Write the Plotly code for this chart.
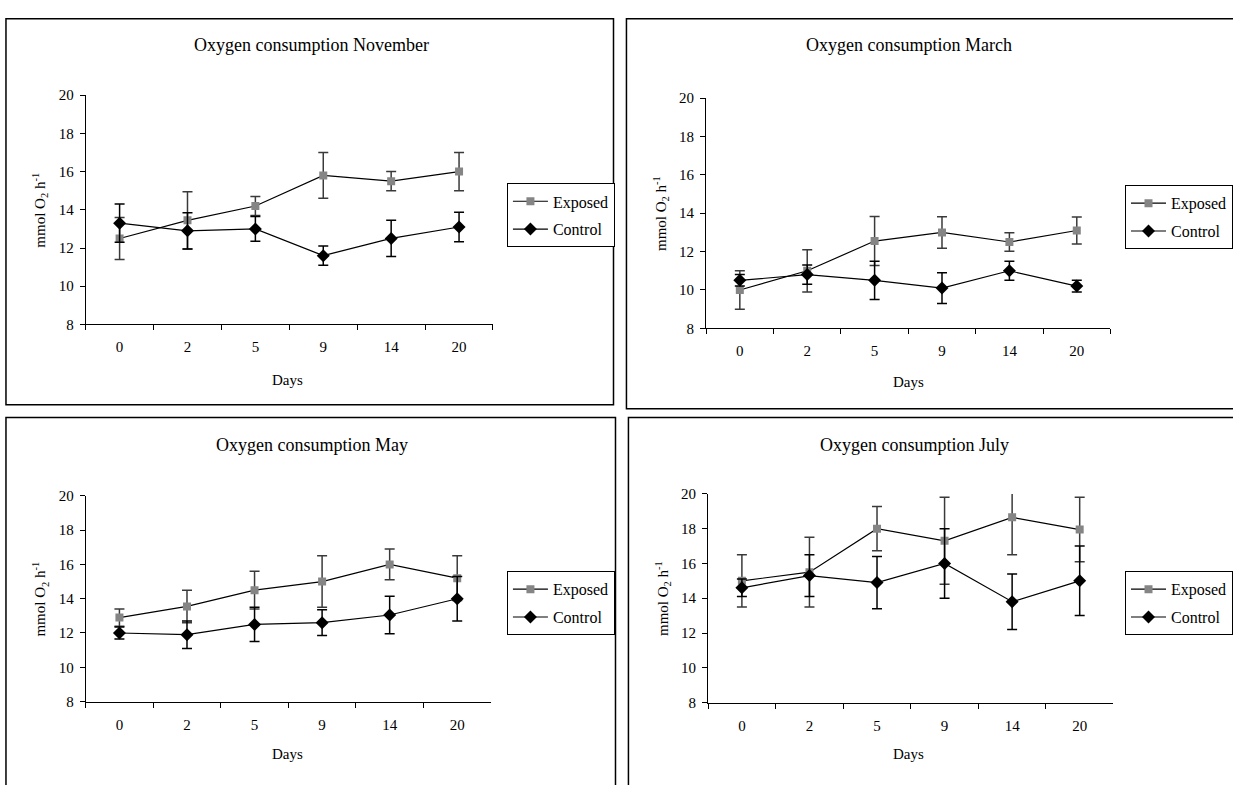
import plotly.graph_objects as go

days = ["0", "2", "5", "9", "14", "20"]

nov_exposed = [12.5, 13.45, 14.2, 15.8, 15.5, 16.0]
nov_exposed_err = [1.1, 1.5, 0.5, 1.2, 0.5, 1.0]
nov_control = [13.3, 12.9, 13.0, 11.6, 12.5, 13.1]
nov_control_err = [1.0, 0.95, 0.65, 0.5, 0.95, 0.77]

mar_exposed = [10.0, 11.0, 12.55, 13.0, 12.5, 13.1]
mar_exposed_err = [1.0, 1.1, 1.28, 0.82, 0.48, 0.7]
mar_control = [10.5, 10.8, 10.5, 10.1, 11.0, 10.2]
mar_control_err = [0.3, 0.5, 1.0, 0.8, 0.5, 0.3]

may_exposed = [12.9, 13.55, 14.5, 15.0, 16.0, 15.2]
may_exposed_err = [0.5, 0.95, 1.1, 1.5, 0.9, 1.3]
may_control = [12.0, 11.9, 12.5, 12.6, 13.05, 14.0]
may_control_err = [0.35, 0.8, 1.0, 0.75, 1.1, 1.3]

jul_exposed = [15.0, 15.5, 18.0, 17.3, 18.65, 17.95]
jul_exposed_err = [1.5, 2.0, 1.27, 2.5, 2.15, 1.85]
jul_control = [14.6, 15.3, 14.9, 16.0, 13.8, 15.0]
jul_control_err = [0.5, 1.2, 1.5, 2.0, 1.6, 2.0]

titles = ["Oxygen consumption November", "Oxygen consumption March",
          "Oxygen consumption May", "Oxygen consumption July"]
y_ticks = [8, 10, 12, 14, 16, 18, 20]

W, H = 1233, 785
FONT = "Liberation Serif"

panels = [
    dict(title=titles[0], ex=nov_exposed, exe=nov_exposed_err, co=nov_control, coe=nov_control_err,
         px=(86, 495), py=(89, 323), box=(6, 616, 11, 405), leg=(509, 179),
         ttl=(313, 38), days=(289, 380), ylab=(40, 206)),
    dict(title=titles[1], ex=mar_exposed, exe=mar_exposed_err, co=mar_control, coe=mar_control_err,
         px=(709, 1115), py=(92, 327), box=(629, 1260, 11, 409), leg=(1130, 181),
         ttl=(913, 38), days=(912, 382), ylab=(663, 210)),
    dict(title=titles[2], ex=may_exposed, exe=may_exposed_err, co=may_control, coe=may_control_err,
         px=(86, 493), py=(498, 708), box=(6, 618, 418, 800), leg=(509, 575),
         ttl=(313, 446), days=(289, 762), ylab=(40, 603)),
    dict(title=titles[3], ex=jul_exposed, exe=jul_exposed_err, co=jul_control, coe=jul_control_err,
         px=(711, 1118), py=(496, 709), box=(631, 1260, 418, 800), leg=(1130, 575),
         ttl=(918, 446), days=(912, 762), ylab=(665, 603)),
]

fig = go.Figure()
layout = dict(
    width=W, height=H, margin=dict(l=0, r=0, t=0, b=0),
    paper_bgcolor="white", plot_bgcolor="white",
    font=dict(family=FONT, size=15, color="black"),
    showlegend=True, shapes=[], annotations=[],
)

for i, p in enumerate(panels):
    n = "" if i == 0 else str(i + 1)
    xa, ya = "x" + n, "y" + n
    lg = "legend" + n
    fig.add_trace(go.Scatter(
        x=days, y=p["ex"], name="Exposed", mode="lines+markers",
        xaxis=xa, yaxis=ya, legend=lg, legendgroup="e" + n,
        line=dict(color="black", width=1.2),
        marker=dict(symbol="square", size=8, color="#858585"),
        error_y=dict(type="data", array=p["exe"], visible=True, color="#3a3a3a",
                     thickness=1.5, width=5),
    ))
    fig.add_trace(go.Scatter(
        x=days, y=p["co"], name="Control", mode="lines+markers",
        xaxis=xa, yaxis=ya, legend=lg, legendgroup="c" + n,
        line=dict(color="black", width=1.2),
        marker=dict(symbol="diamond", size=10, color="black"),
        error_y=dict(type="data", array=p["coe"], visible=True, color="black",
                     thickness=1.5, width=5),
    ))
    layout["xaxis" + n] = dict(
        domain=[p["px"][0] / W, p["px"][1] / W], anchor=ya,
        type="category", range=[-0.5, 5.5], tickson="boundaries",
        ticks="outside", ticklen=5, tickcolor="black", tickwidth=1,
        showline=True, linecolor="black", linewidth=1, showgrid=False, zeroline=False,
        tickfont=dict(family=FONT, size=15), ticklabelstandoff=9, fixedrange=True,
    )
    layout["yaxis" + n] = dict(
        domain=[1 - p["py"][1] / H, 1 - p["py"][0] / H], anchor=xa,
        range=[8, 20], tickvals=y_ticks,
        ticks="outside", ticklen=5, tickcolor="black", tickwidth=1,
        showline=True, linecolor="black", linewidth=1, showgrid=False, zeroline=False,
        tickfont=dict(family=FONT, size=15), ticklabelstandoff=3, fixedrange=True,
    )
    layout[lg] = dict(
        x=p["leg"][0] / W, y=1 - p["leg"][1] / H, xanchor="left", yanchor="top",
        bordercolor="black", borderwidth=1, bgcolor="white",
        font=dict(family=FONT, size=16), tracegroupgap=4, traceorder="grouped",
        itemwidth=35,
    )
    b = p["box"]
    layout["shapes"].append(dict(
        type="rect", xref="paper", yref="paper",
        x0=b[0] / W, x1=b[1] / W, y0=1 - b[3] / H, y1=1 - b[2] / H,
        line=dict(color="black", width=1.5), fillcolor="rgba(0,0,0,0)", layer="below",
    ))
    layout["annotations"].append(dict(
        text=p["title"], xref="paper", yref="paper", x=p["ttl"][0] / W, y=1 - p["ttl"][1] / H,
        xanchor="center", yanchor="middle", showarrow=False, font=dict(family=FONT, size=18),
    ))
    layout["annotations"].append(dict(
        text="Days", xref="paper", yref="paper", x=p["days"][0] / W, y=1 - p["days"][1] / H,
        xanchor="center", yanchor="middle", showarrow=False, font=dict(family=FONT, size=15),
    ))
    layout["annotations"].append(dict(
        text="mmol O<sub>2</sub> h<sup>-1</sup>", xref="paper", yref="paper",
        x=p["ylab"][0] / W, y=1 - p["ylab"][1] / H, textangle=-90,
        xanchor="center", yanchor="middle", showarrow=False, font=dict(family=FONT, size=15),
    ))

fig.update_layout(**layout)
fig.write_html(
    "out.html",
    config={"displayModeBar": False, "staticPlot": False},
    post_script="document.body.style.margin='0px';document.body.style.overflow='hidden';",
)
